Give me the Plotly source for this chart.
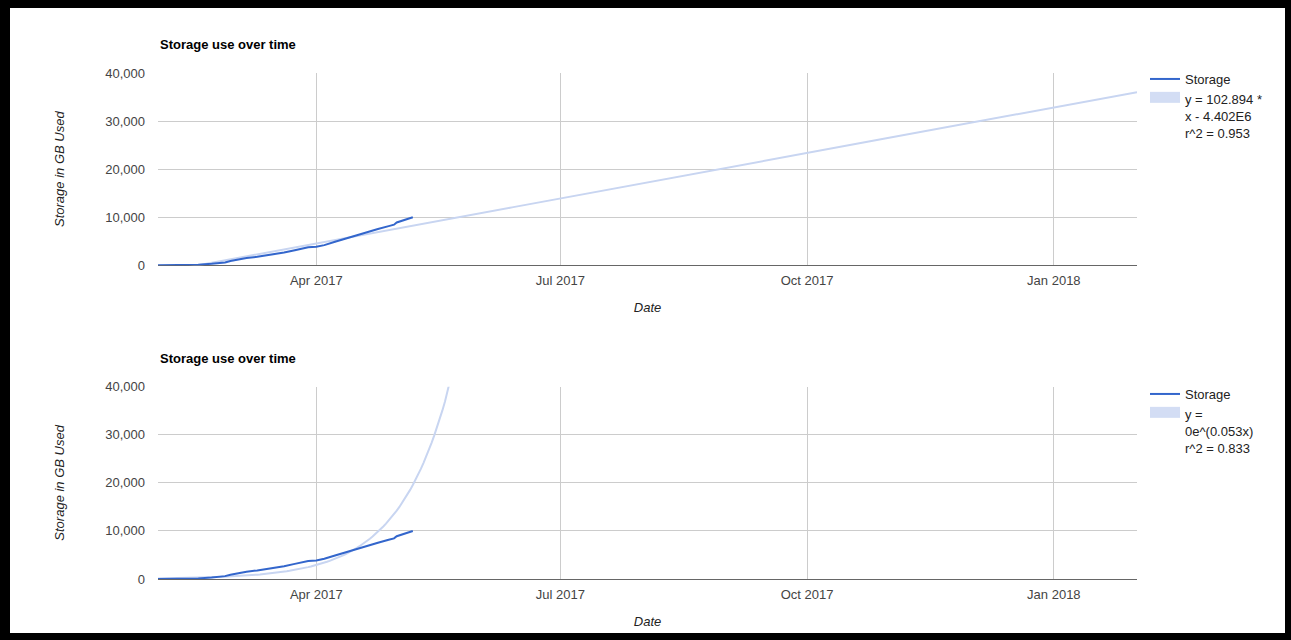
import plotly.graph_objects as go
from plotly.subplots import make_subplots
import pandas as pd
import numpy as np

# ---------------- data ----------------
dates = ["2017-02-01", "2017-02-06", "2017-02-11", "2017-02-16", "2017-02-21",
         "2017-02-26", "2017-02-28", "2017-03-01", "2017-03-02", "2017-03-06",
         "2017-03-10", "2017-03-15", "2017-03-20", "2017-03-24", "2017-03-27",
         "2017-03-29", "2017-04-01", "2017-04-04", "2017-04-08", "2017-04-12",
         "2017-04-16", "2017-04-20", "2017-04-24", "2017-04-28", "2017-04-30",
         "2017-05-01", "2017-05-03", "2017-05-05", "2017-05-07"]
storage_gb = [0, 20, 60, 130, 300,
              600, 900, 1000, 1250, 1500,
              1780, 2150, 2650, 3150, 3600,
              3750, 3850, 4200, 4900, 5600,
              6250, 6900, 7550, 8150, 8450,
              8900, 9300, 9650, 10000]

# trendline coefficients read from the legends (x = spreadsheet serial day)
lin_slope = 102.894
lin_intercept = -4.402e6
lin_r2 = 0.953
exp_rate = 0.053
exp_value_apr1 = 2900       # coefficient shown as "0" in the legend; value at 2017-04-01
exp_r2 = 0.833

x_range = ["2017-02-01", "2018-02-01"]
y_ticks = [0, 10000, 20000, 30000, 40000]

chart_title = "Storage use over time"
y_title = "Storage in GB Used"
x_title = "Date"

# ---------------- trendlines ----------------
trend_dates = pd.date_range(x_range[0], x_range[1], freq="D")
serial = (trend_dates - pd.Timestamp("1899-12-30")).days.values.astype(float)
apr1_serial = (pd.Timestamp("2017-04-01") - pd.Timestamp("1899-12-30")).days
lin_vals = lin_slope * serial + lin_intercept
exp_vals = exp_value_apr1 * np.exp(exp_rate * (serial - apr1_serial))

# ---------------- layout helpers ----------------
W, H = 1291, 640
L, R, T, B = 158, 1137, 73, 579


def PX(x):
    return (x - L) / (R - L)


def PY(y):
    return (B - y) / (B - T)


top_lo = PY(265.3)
bot_hi = PY(386.7)

BLUE = "#3366cc"
TREND = "#c8d5f1"
FONT = "Liberation Sans, Arial, sans-serif"

fig = make_subplots(rows=2, cols=1)
fig.update_layout(
    yaxis=dict(domain=[top_lo, 1.0]),
    yaxis2=dict(domain=[0.0, bot_hi]),
)

lin_label = "y = 102.894 *<br>x - 4.402E6<br>r^2 = 0.953"
exp_label = "y =<br>0e^(0.053x)<br>r^2 = 0.833"

for row, (tvals, tlabel, lg) in enumerate(
        [(lin_vals, lin_label, "legend"), (exp_vals, exp_label, "legend2")], start=1):
    fig.add_trace(go.Scatter(x=trend_dates, y=tvals, mode="lines",
                             line=dict(color=TREND, width=2), showlegend=False,
                             hoverinfo="skip"), row=row, col=1)
    fig.add_trace(go.Scatter(x=dates, y=storage_gb, mode="lines", name="Storage",
                             line=dict(color=BLUE, width=2), legend=lg), row=row, col=1)
    fig.add_trace(go.Scatter(x=[None], y=[None], mode="lines", name=tlabel,
                             line=dict(color="#d3ddf4", width=10), fill="toself",
                             fillcolor="#d3ddf4", legend=lg), row=row, col=1)

axis_font = dict(family=FONT, size=13, color="#444")
for r in (1, 2):
    fig.update_xaxes(range=x_range, type="date", tickformat="%b %Y", dtick="M3",
                     tick0="2017-01-01", showgrid=True, gridcolor="#cccccc",
                     gridwidth=1, ticks="", showline=False, zeroline=False,
                     tickfont=axis_font, ticklabelstandoff=6,
                     title=dict(text="<i>" + x_title + "</i>",
                                font=dict(family=FONT, size=13, color="#222"),
                                standoff=15),
                     row=r, col=1)
    fig.update_yaxes(range=[0, 40000], tickvals=y_ticks, tickformat=",d",
                     showgrid=True, gridcolor="#cccccc", gridwidth=1, ticks="",
                     zeroline=True, zerolinecolor="#666666", zerolinewidth=1,
                     showline=False, tickfont=axis_font, ticklabelstandoff=12,
                     title=dict(text="<i>" + y_title + "</i>",
                                font=dict(family=FONT, size=13, color="#222"),
                                standoff=37),
                     row=r, col=1)

legend_common = dict(x=PX(1145), xanchor="left", yanchor="top", bgcolor="rgba(0,0,0,0)",
                     font=dict(family=FONT, size=13, color="#222"), valign="top",
                     traceorder="normal", tracegroupgap=0, itemclick=False)

fig.update_layout(
    width=W, height=H,
    margin=dict(l=L, r=W - R, t=T, b=H - B),
    paper_bgcolor="black",
    plot_bgcolor="rgba(0,0,0,0)",
    font=dict(family=FONT, size=13, color="#222"),
    legend=dict(y=PY(64), **legend_common),
    legend2=dict(y=PY(379), **legend_common),
    shapes=[dict(type="rect", xref="paper", yref="paper", x0=PX(10), x1=PX(1285),
                 y0=PY(633), y1=PY(8), fillcolor="white", line=dict(width=0),
                 layer="below")],
    annotations=[
        dict(text="<b>" + chart_title + "</b>", x=0, y=PY(44.3), xref="paper", yref="paper",
             xanchor="left", yanchor="middle", showarrow=False,
             font=dict(family=FONT, size=13, color="#000")),
        dict(text="<b>" + chart_title + "</b>", x=0, y=PY(358.3), xref="paper", yref="paper",
             xanchor="left", yanchor="middle", showarrow=False,
             font=dict(family=FONT, size=13, color="#000")),
    ],
    hovermode=False,
)

fig.write_html("out.html", config={"displayModeBar": False},
               post_script="document.body.style.margin='0';document.body.style.overflow='hidden';")
